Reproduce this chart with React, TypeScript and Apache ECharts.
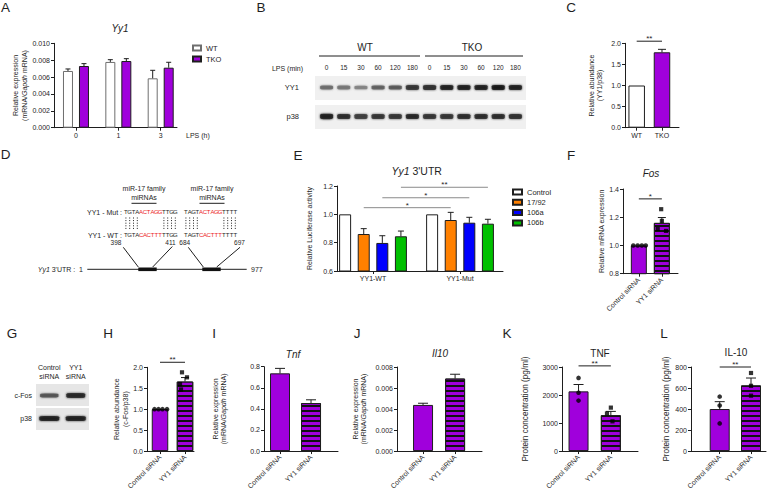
import React, { useEffect, useRef } from 'react';
import * as echarts from 'echarts';

// ---------------- Data ----------------
// A: Yy1 mRNA (WT vs TKO) after LPS
const aTimes = ['0', '1', '3'];
const aWT = [0.00672, 0.00779, 0.00585];
const aWTSem = [0.00024, 0.00027, 0.00095];
const aTKO = [0.00731, 0.0079, 0.00711];
const aTKOSem = [0.00028, 0.00028, 0.00064];

// B: western blot (band darkness 0..1)
const bGroups = ['WT', 'TKO'];
const bLanes = ['0', '15', '30', '60', '120', '180', '0', '15', '30', '60', '120', '180'];
const bRows = ['p38', 'YY1'];
const bYY1 = [0.55, 0.5, 0.42, 0.62, 0.66, 0.85, 0.88, 0.95, 0.95, 0.97, 1.0, 0.96];
const bP38 = [0.95, 0.9, 0.8, 0.85, 0.85, 0.92, 0.85, 0.85, 0.9, 0.9, 0.9, 0.88];

// C: YY1 / p38 quantification
const cGroups = ['WT', 'TKO'];
const cMean = [1.0, 1.787];
const cSem = [0, 0.07];

// D: 3'UTR sites
const dSeqMut = [['TGTA', 'ACTAGG', 'TTGG'], ['TAGT', 'ACTAGG', 'TTTT']];
const dSeqWT = [['TGTA', 'CACTTT', 'TTGG'], ['TAGT', 'CACTTT', 'TTTT']];
const dSiteStart = [398, 684];
const dSiteEnd = [411, 697];
const dUtrLength = 977;

// E: luciferase
const eGroups = ['YY1-WT', 'YY1-Mut'];
const eTreatments = ['Control', '17/92', '106a', '106b'];
const eControl = [1.0, 1.0];
const eControlSem = [0, 0];
const e1792 = [0.861, 0.96];
const e1792Sem = [0.038, 0.054];
const e106a = [0.798, 0.941];
const e106aSem = [0.051, 0.038];
const e106b = [0.845, 0.934];
const e106bSem = [0.037, 0.031];

// siRNA panels
const siGroups = ['Control siRNA', 'YY1 siRNA'];
// F: Fos
const fMean = [1.0, 1.16];
const fSem = [0, 0.038];
const fControlDots = [1.0, 1.0, 1.0, 1.0];
const fYY1Dots = [1.257, 1.174, 1.117, 1.103];
const fControlJitter = [-0.24, -0.05, 0.13, 0.3];
const fYY1Jitter = [-0.03, 0.0, -0.18, 0.18];
// G: blot
const gLanes = ['Control\nsiRNA', 'YY1\nsiRNA'];
const gRows = ['p38', 'c-Fos'];
const gCFos = [0.68, 0.92];
const gP38 = [0.95, 0.95];
// H: c-Fos/p38
const hMean = [1.0, 1.66];
const hSem = [0, 0.095];
const hControlDots = [1.0, 1.0, 1.0, 1.0];
const hYY1Dots = [1.88, 1.76, 1.6, 1.47];
const hControlJitter = [-0.22, -0.06, 0.1, 0.28];
const hYY1Jitter = [-0.12, 0.08, -0.2, -0.16];
// I: Tnf
const iMean = [0.737, 0.455];
const iSem = [0.047, 0.031];
// J: Il10
const jMean = [0.00439, 0.0069];
const jSem = [0.00016, 0.00041];
// K: TNF protein
const kMean = [2130, 1280];
const kSem = [245, 135];
const kControlDots = [2610, 2080, 1800];
const kYY1Dots = [1550, 1340, 1060];
const kControlJitter = [0, 0, 0];
const kYY1Jitter = [0, -0.12, 0.05];
// L: IL-10 protein
const lMean = [400, 625];
const lSem = [70, 70];
const lControlDots = [518, 433, 263];
const lYY1Dots = [743, 621, 527];
const lControlJitter = [0, 0, 0];
const lYY1Jitter = [0, 0, 0];

// ---------------- Style ----------------
const FONT = 'Liberation Sans, Arial, Helvetica, sans-serif';
const INK = '#1e1e1e';
const PURPLE = '#a000dc';
const RED = '#ec1c24';
const ORANGE = '#ff8000';
const BLUE = '#0000ff';
const GREEN = '#00c000';
const SIG_GRAY = '#8a8a8a';
const STRIPES = { symbol: 'rect', symbolSize: 1, dashArrayX: [1, 0], dashArrayY: [1.5, 2.4], color: '#111', rotation: 0 };

const lineStyle = { color: INK, width: 1 };
const baseText = { color: INK, fontFamily: FONT };

function valueY(grid: number, min: number, max: number, interval: number, decimals: number, name: string, nameGap: number, nameSize = 7) {
  return {
    type: 'value', gridIndex: grid, min, max, interval,
    axisLine: { show: true, onZero: false, lineStyle },
    axisTick: { show: true, length: 3, lineStyle },
    axisLabel: { ...baseText, fontSize: 7, margin: 4, formatter: (v: number) => v.toFixed(decimals) },
    splitLine: { show: false },
    name, nameLocation: 'middle', nameGap, nameRotate: 90,
    nameTextStyle: {
      ...baseText, fontSize: nameSize, lineHeight: nameSize + 1.5,
      rich: { i: { fontStyle: 'italic', fontSize: nameSize, fontFamily: FONT, color: INK, lineHeight: nameSize + 1.5 } },
    },
  };
}

function valueX(grid: number, min: number, max: number, labels: string[], rotate = 0) {
  const ticks = labels.map((_, i) => i);
  return {
    type: 'value', gridIndex: grid, min, max,
    axisLine: { show: true, onZero: false, lineStyle },
    axisTick: { show: true, length: 3, lineStyle, customValues: ticks },
    axisLabel: {
      ...baseText, fontSize: 7, margin: rotate ? 5 : 4, rotate, customValues: ticks,
      formatter: (v: number) => labels[Math.round(v)] ?? '',
    },
    splitLine: { show: false },
  };
}

function errSeries(grid: number, xs: number[], means: number[], sems: number[], offsetPx: number, cap: number) {
  return {
    type: 'custom', xAxisIndex: grid, yAxisIndex: grid, z: 5, silent: true,
    data: xs.map((x, i) => [x, means[i], sems[i]]),
    renderItem: (_p: any, api: any) => {
      const x = api.value(0), m = api.value(1), s = api.value(2);
      if (!s) return null;
      const p0 = api.coord([x, m]);
      const p1 = api.coord([x, m + s]);
      const cx = p0[0] + offsetPx;
      return {
        type: 'group', children: [
          { type: 'line', shape: { x1: cx, y1: p0[1], x2: cx, y2: p1[1] }, style: { stroke: INK, lineWidth: 1 } },
          { type: 'line', shape: { x1: cx - cap / 2, y1: p1[1], x2: cx + cap / 2, y2: p1[1] }, style: { stroke: INK, lineWidth: 1 } },
        ],
      };
    },
  };
}

type Bracket = { x1: number; x2: number; y: number; label: string; off1?: number; off2?: number };
function bracketSeries(grid: number, items: Bracket[], color: string) {
  return {
    type: 'custom', xAxisIndex: grid, yAxisIndex: grid, z: 6, silent: true, clip: false,
    data: items.map((it) => [it.x1, it.y, it.x2]),
    renderItem: (p: any, api: any) => {
      const it = items[p.dataIndex];
      const a = api.coord([it.x1, it.y]);
      const b = api.coord([it.x2, it.y]);
      const x1 = a[0] + (it.off1 || 0);
      const x2 = b[0] + (it.off2 || 0);
      return {
        type: 'group', children: [
          { type: 'line', shape: { x1, y1: a[1], x2, y2: a[1] }, style: { stroke: color, lineWidth: 1 } },
          {
            type: 'text', x: (x1 + x2) / 2, y: a[1] + 1.5,
            style: { text: it.label, fill: INK, fontSize: 8, fontFamily: FONT, align: 'center', verticalAlign: 'bottom', textAlign: 'center', textVerticalAlign: 'bottom' },
          },
        ],
      };
    },
  };
}

function dots(grid: number, x: number, values: number[], jitter: number[], symbol: string) {
  return {
    type: 'scatter', xAxisIndex: grid, yAxisIndex: grid, z: 6, silent: true,
    symbol, symbolSize: symbol === 'rect' ? 4.2 : 4.6,
    itemStyle: { color: '#000' },
    data: values.map((v, i) => [x + jitter[i], v]),
  };
}

function twoBar(grid: number, means: number[], firstColor: string, secondStriped: boolean, width: number) {
  return {
    type: 'bar', xAxisIndex: grid, yAxisIndex: grid, barWidth: width, silent: true, z: 3,
    data: [
      { value: [0, means[0]], itemStyle: { color: firstColor, borderColor: INK, borderWidth: 1 } },
      {
        value: [1, means[1]],
        itemStyle: { color: PURPLE, borderColor: INK, borderWidth: 1, ...(secondStriped ? { decal: STRIPES } : {}) },
      },
    ],
  };
}

function gray(k: number) {
  const l = Math.round(205 - 190 * k);
  return `rgb(${l},${l},${l})`;
}

function txt(x: number, y: number, text: string, size = 7, align = 'center', extra: any = {}) {
  const style: any = {
    text, fill: INK, fontSize: size, fontFamily: FONT,
    align, verticalAlign: 'middle', textAlign: align, textVerticalAlign: 'middle',
    ...extra,
  };
  if (text.indexOf('{') >= 0) {
    style.rich = { i: { fontStyle: 'italic', fontSize: size, fontFamily: FONT, fill: INK } };
  }
  return { type: 'text', x, y, silent: true, style };
}
function ln(x1: number, y1: number, x2: number, y2: number, stroke = INK, w = 1, dash?: number[]) {
  return { type: 'line', silent: true, shape: { x1, y1, x2, y2 }, style: { stroke, lineWidth: w, lineDash: dash } };
}

function buildOption() {
  const grids = [
    { left: 54, top: 43.3, width: 123, height: 84.4 }, // 0 A
    { left: 625, top: 43.3, width: 54, height: 84.4 }, // 1 C
    { left: 337, top: 186, width: 166, height: 85 }, // 2 E
    { left: 623, top: 189, width: 55, height: 84.7 }, // 3 F
    { left: 147, top: 367.3, width: 47, height: 85 }, // 4 H
    { left: 264, top: 366.7, width: 74, height: 85 }, // 5 I
    { left: 397, top: 367, width: 85, height: 85 }, // 6 J
    { left: 562, top: 367, width: 76, height: 85 }, // 7 K
    { left: 691, top: 367, width: 75, height: 85 }, // 8 L
    { left: 318, top: 73, width: 206, height: 58 }, // 9 B blot
    { left: 36, top: 384, width: 53, height: 46 }, // 10 G blot
  ];

  const xAxes: any[] = [
    valueX(0, -0.519, 2.385, aTimes),
    valueX(1, -0.462, 1.672, cGroups),
    valueX(2, -0.414, 1.494, eGroups),
    valueX(3, -0.687, 1.7, siGroups, 45),
    valueX(4, -0.52, 1.36, siGroups, 45),
    valueX(5, -0.516, 1.87, siGroups, 45),
    valueX(6, -0.8125, 1.84, siGroups, 45),
    valueX(7, -0.512, 1.84, siGroups, 45),
    valueX(8, -0.917, 1.479, siGroups, 45),
    {
      type: 'category', gridIndex: 9, position: 'top', data: bLanes.map((_, i) => String(i)),
      axisLine: { show: false }, axisTick: { show: false },
      axisLabel: { ...baseText, fontSize: 6.5, margin: 2, interval: 0, formatter: (_v: string, i: number) => bLanes[i] },
      name: 'LPS (min)', nameLocation: 'start', nameGap: 15,
      nameTextStyle: { ...baseText, fontSize: 7, verticalAlign: 'bottom', padding: [0, 0, 1, 0] },
    },
    {
      type: 'category', gridIndex: 10, position: 'top', data: gLanes.map((_, i) => String(i)),
      axisLine: { show: false }, axisTick: { show: false },
      axisLabel: { ...baseText, fontSize: 7, lineHeight: 9, margin: 3, interval: 0, formatter: (_v: string, i: number) => gLanes[i] },
    },
  ];

  const yAxes: any[] = [
    valueY(0, 0, 0.01, 0.002, 3, 'Relative expression\n(mRNA/{i|Gapdh} mRNA)', 25),
    valueY(1, 0, 2, 0.5, 1, 'Relative abundance\n(YY1/p38)', 21),
    valueY(2, 0.6, 1.2, 0.2, 1, 'Relative Luciferase activity', 23),
    valueY(3, 0.8, 1.4, 0.2, 1, 'Relative mRNA expression', 17),
    valueY(4, 0, 2, 0.5, 1, 'Relative abundance\n(c-Fos/p38)', 15),
    valueY(5, 0, 0.8, 0.2, 1, 'Relative expression\n(mRNA/{i|Gapdh} mRNA)', 36),
    valueY(6, 0, 0.008, 0.002, 3, 'Relative expression\n(mRNA/{i|Gapdh} mRNA)', 29),
    valueY(7, 0, 3000, 1000, 0, 'Protein concentration (pg/ml)', 32, 8.2),
    valueY(8, 0, 800, 200, 0, 'Protein concentration (pg/ml)', 15, 8.2),
    {
      type: 'category', gridIndex: 9, data: bRows,
      axisLine: { show: false }, axisTick: { show: false },
      axisLabel: { ...baseText, fontSize: 7.5, margin: 19 },
    },
    {
      type: 'category', gridIndex: 10, data: gRows,
      axisLine: { show: false }, axisTick: { show: false },
      axisLabel: { ...baseText, fontSize: 7, margin: 4 },
    },
  ];

  const series: any[] = [];

  // ---- A ----
  const aBarW = 10, aGap = 0.6, aStep = aBarW * (1 + aGap);
  series.push({
    type: 'bar', name: 'WT', xAxisIndex: 0, yAxisIndex: 0, barWidth: aBarW, barGap: '60%', z: 3,
    itemStyle: { color: '#ffffff', borderColor: '#6e6e6e', borderWidth: 1 },
    data: aWT.map((v, i) => [i, v]),
  });
  series.push({
    type: 'bar', name: 'TKO', xAxisIndex: 0, yAxisIndex: 0, barWidth: aBarW, barGap: '60%', z: 3,
    itemStyle: { color: PURPLE, borderColor: INK, borderWidth: 1 },
    data: aTKO.map((v, i) => [i, v]),
  });
  series.push(errSeries(0, aTimes.map((_, i) => i), aWT, aWTSem, -aStep / 2, 5));
  series.push(errSeries(0, aTimes.map((_, i) => i), aTKO, aTKOSem, aStep / 2, 5));

  // ---- B blot ----
  series.push({
    type: 'scatter', xAxisIndex: 9, yAxisIndex: 9, symbol: 'roundRect', silent: true,
    data: [
      ...bYY1.map((k, i) => ({ value: [i, 1], symbolSize: [13, 2.4 + 2.8 * k], itemStyle: { color: gray(k), shadowBlur: 2, shadowColor: gray(k) } })),
      ...bP38.map((k, i) => ({ value: [i, 0], symbolSize: [13, 3 + 2.4 * k], itemStyle: { color: gray(k), shadowBlur: 2, shadowColor: gray(k) } })),
    ],
  });

  // ---- C ----
  series.push(twoBar(1, cMean, '#ffffff', false, 16.5));
  series.push(errSeries(1, [0, 1], cMean, cSem, 0, 8));
  series.push(bracketSeries(1, [{ x1: 0, x2: 1, y: 2.05, label: '**' }], INK));

  // ---- E ----
  const eBarW = 12, eGap = 0.55, eStep = eBarW * (1 + eGap);
  const eVals = [eControl, e1792, e106a, e106b];
  const eSems = [eControlSem, e1792Sem, e106aSem, e106bSem];
  const eColors = ['#ffffff', ORANGE, BLUE, GREEN];
  const eOff = (i: number) => (i - 1.5) * eStep;
  eTreatments.forEach((name, s) => {
    series.push({
      type: 'bar', name, xAxisIndex: 2, yAxisIndex: 2, barWidth: eBarW, barGap: '55%', z: 3,
      itemStyle: { color: eColors[s], borderColor: INK, borderWidth: 1 },
      data: eVals[s].map((v, i) => [i, v]),
    });
    series.push(errSeries(2, [0, 1], eVals[s], eSems[s], eOff(s), 6));
  });
  series.push(bracketSeries(2, [
    { x1: 0, x2: 1, y: 1.047, label: '*', off1: eOff(1), off2: eOff(1) },
    { x1: 0, x2: 1, y: 1.117, label: '*', off1: eOff(2), off2: eOff(2) },
    { x1: 0, x2: 1, y: 1.191, label: '**', off1: eOff(3), off2: eOff(3) },
  ], SIG_GRAY));

  // ---- F ----
  series.push(twoBar(3, fMean, PURPLE, true, 16));
  series.push(errSeries(3, [0, 1], fMean, fSem, 0, 8));
  series.push(dots(3, 0, fControlDots, fControlJitter, 'circle'));
  series.push(dots(3, 1, fYY1Dots, fYY1Jitter, 'rect'));
  series.push(bracketSeries(3, [{ x1: 0, x2: 1, y: 1.33, label: '*' }], INK));

  // ---- G blot ----
  series.push({
    type: 'scatter', xAxisIndex: 10, yAxisIndex: 10, symbol: 'roundRect', silent: true,
    data: [
      ...gCFos.map((k, i) => ({ value: [i, 1], symbolSize: [17 + 2 * k, 2.5 + 2.5 * k], itemStyle: { color: gray(k), shadowBlur: 2, shadowColor: gray(k) } })),
      ...gP38.map((k, i) => ({ value: [i, 0], symbolSize: [20, 3 + 2.2 * k], itemStyle: { color: gray(k), shadowBlur: 2, shadowColor: gray(k) } })),
    ],
  });

  // ---- H ----
  series.push(twoBar(4, hMean, PURPLE, true, 16.5));
  series.push(errSeries(4, [0, 1], hMean, hSem, 0, 8));
  series.push(dots(4, 0, hControlDots, hControlJitter, 'circle'));
  series.push(dots(4, 1, hYY1Dots, hYY1Jitter, 'rect'));
  series.push(bracketSeries(4, [{ x1: 0, x2: 1, y: 2.12, label: '**' }], INK));

  // ---- I ----
  series.push(twoBar(5, iMean, PURPLE, true, 20));
  series.push(errSeries(5, [0, 1], iMean, iSem, 0, 10));

  // ---- J ----
  series.push(twoBar(6, jMean, PURPLE, true, 20));
  series.push(errSeries(6, [0, 1], jMean, jSem, 0, 10));

  // ---- K ----
  series.push(twoBar(7, kMean, PURPLE, true, 20));
  series.push(errSeries(7, [0, 1], kMean, kSem, 0, 10));
  series.push(dots(7, 0, kControlDots, kControlJitter, 'circle'));
  series.push(dots(7, 1, kYY1Dots, kYY1Jitter, 'rect'));
  series.push(bracketSeries(7, [{ x1: 0, x2: 1, y: 3040, label: '**' }], INK));

  // ---- L ----
  series.push(twoBar(8, lMean, PURPLE, true, 20));
  series.push(errSeries(8, [0, 1], lMean, lSem, 0, 10));
  series.push(dots(8, 0, lControlDots, lControlJitter, 'circle'));
  series.push(dots(8, 1, lYY1Dots, lYY1Jitter, 'rect'));
  series.push(bracketSeries(8, [{ x1: 0, x2: 1, y: 800, label: '**' }], INK));

  // ---------------- graphic ----------------
  const g: any[] = [];
  // panel letters
  const letters: [string, number, number][] = [
    ['A', 5.5, 7.5], ['B', 261, 7.5], ['C', 571, 7.5], ['D', 5.5, 154.5], ['E', 298, 155.5], ['F', 571, 155],
    ['G', 12, 333], ['H', 108, 333], ['I', 214, 333], ['J', 357, 333], ['K', 507, 333], ['L', 664, 333],
  ];
  letters.forEach(([t, x, y]) => g.push(txt(x, y, t, 13.5, 'center')));

  // titles
  g.push(txt(120, 28.5, '{i|Yy1}', 10));
  g.push(txt(416.7, 171, '{i|Yy1} 3\'UTR', 10.5));
  g.push(txt(651, 173, '{i|Fos}', 10));
  g.push(txt(293, 354, '{i|Tnf}', 10));
  g.push(txt(440, 353, '{i|Il10}', 10));
  g.push(txt(600, 353, 'TNF', 10));
  g.push(txt(736, 352, 'IL-10', 10));
  g.push(txt(186, 135.5, 'LPS (h)', 7, 'left'));

  // B header
  g.push(txt(365, 47, bGroups[0], 10));
  g.push(ln(319, 56, 420, 56));
  g.push(txt(472, 47, bGroups[1], 10));
  g.push(ln(425, 56, 523, 56));
  // blot backgrounds
  g.push({ type: 'rect', silent: true, z: -1, shape: { x: 315, y: 76, width: 211, height: 24 }, style: { fill: '#f0f0f0' } });
  g.push({ type: 'rect', silent: true, z: -1, shape: { x: 315, y: 105, width: 211, height: 24 }, style: { fill: '#f0f0f0' } });
  g.push({ type: 'rect', silent: true, z: -1, shape: { x: 36, y: 384, width: 53, height: 22 }, style: { fill: '#e6e6e6' } });
  g.push({ type: 'rect', silent: true, z: -1, shape: { x: 36, y: 408, width: 53, height: 22 }, style: { fill: '#e6e6e6' } });

  // D diagram
  const seqStart = [124, 184];
  const pitch = 3.8;
  const famX = [144, 212];
  for (let s = 0; s < 2; s++) {
    g.push(txt(famX[s], 188, 'miR-17 family', 7));
    g.push(txt(famX[s], 197, 'miRNAs', 7));
    g.push(ln(famX[s] - 12.5, 203.3, famX[s] + 12.5, 203.3));
    const rows: [string[], number][] = [[dSeqMut[s], 212], [dSeqWT[s], 235]];
    rows.forEach(([parts, y]) => {
      let idx = 0;
      parts.forEach((part, pi) => {
        for (const ch of part) {
          g.push(txt(seqStart[s] + pitch * (idx + 0.5), y, ch, 6, 'center', { fill: pi === 1 ? RED : INK }));
          idx++;
        }
      });
    });
    const total = dSeqWT[s].join('').length;
    const pairCols = [0, 1, 2, 3, total - 4, total - 3, total - 2, total - 1];
    pairCols.forEach((c) => {
      const x = seqStart[s] + pitch * (c + 0.5);
      g.push(ln(x, 217.5, x, 229, INK, 1, [1, 1.6]));
    });
  }
  g.push(txt(122, 212, 'YY1 - Mut :', 7, 'right'));
  g.push(txt(122, 235, 'YY1 - WT :', 7, 'right'));
  g.push(txt(116, 242.5, String(dSiteStart[0]), 6.5));
  g.push(txt(170.5, 242.5, String(dSiteEnd[0]), 6.5));
  g.push(txt(184.7, 242.5, String(dSiteStart[1]), 6.5));
  g.push(txt(239.5, 242.5, String(dSiteEnd[1]), 6.5));
  g.push(ln(123.3, 247.3, 138.3, 267));
  g.push(ln(172.3, 246.5, 152.7, 267));
  g.push(ln(188.3, 247.3, 203.3, 267));
  g.push(ln(240, 247.3, 216.7, 267));
  g.push(ln(87.3, 269.3, 246.7, 269.3));
  g.push({ type: 'rect', silent: true, shape: { x: 138.3, y: 267.5, width: 18.4, height: 3.6 }, style: { fill: '#111' } });
  g.push({ type: 'rect', silent: true, shape: { x: 202.3, y: 267.5, width: 18.4, height: 3.6 }, style: { fill: '#111' } });
  g.push(txt(83, 269.5, '{i|Yy1} 3\'UTR :  1', 7, 'right'));
  g.push(txt(251, 269.5, String(dUtrLength), 7, 'left'));

  return {
    animation: false,
    backgroundColor: '#ffffff',
    textStyle: { fontFamily: FONT },
    grid: grids,
    xAxis: xAxes,
    yAxis: yAxes,
    legend: [
      {
        left: 192, top: 44, orient: 'vertical', padding: 0, itemWidth: 8, itemHeight: 5, itemGap: 3,
        icon: 'rect', selectedMode: false, data: ['WT', 'TKO'],
        textStyle: { ...baseText, fontSize: 7.5 },
      },
      {
        left: 512, top: 188, orient: 'vertical', padding: 0, itemWidth: 9, itemHeight: 5, itemGap: 2.3,
        icon: 'rect', selectedMode: false, data: eTreatments,
        textStyle: { ...baseText, fontSize: 7.5 },
      },
    ],
    series,
    graphic: { elements: g },
  };
}

export default function App() {
  const ref = useRef<HTMLDivElement>(null);
  useEffect(() => {
    document.body.style.margin = '0';
    const chart = echarts.init(ref.current as HTMLDivElement, null, { renderer: 'svg', width: 778, height: 492 });
    chart.setOption(buildOption() as any);
    return () => chart.dispose();
  }, []);
  return (
    <div
      ref={ref}
      style={{ width: 778, height: 492, position: 'absolute', left: 0, top: 0, background: '#fff' }}
    />
  );
}
